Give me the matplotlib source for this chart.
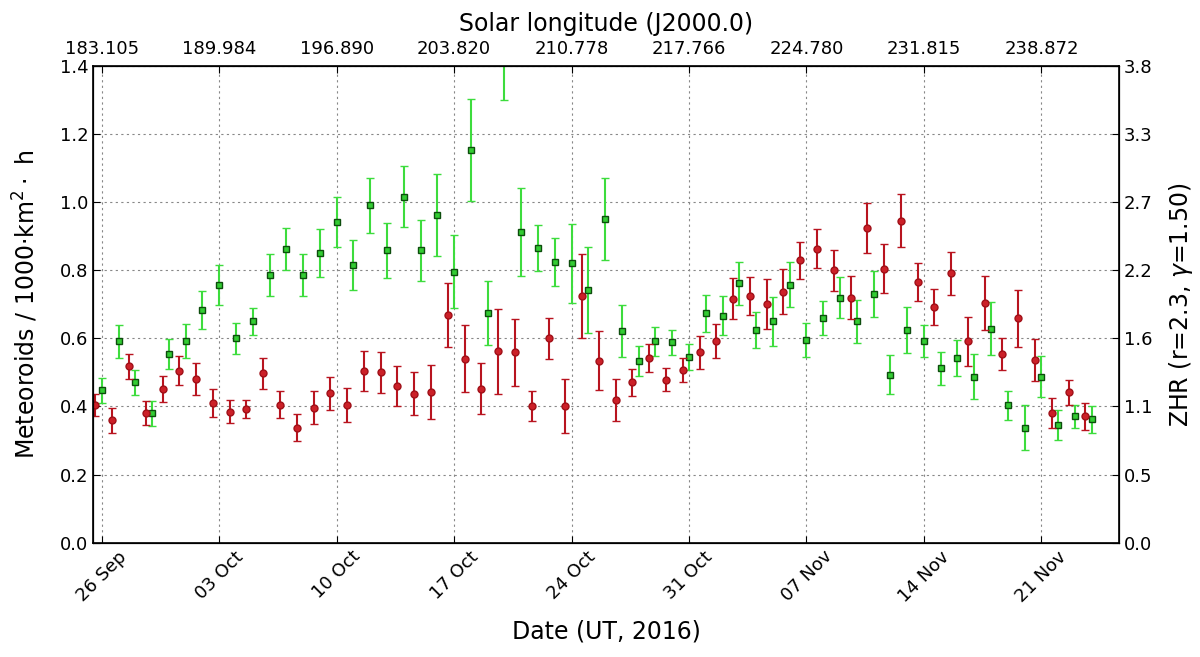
import numpy as np
import pandas as pd
import matplotlib
matplotlib.use('Agg')
import matplotlib.pyplot as plt
import matplotlib.dates as mdates

# daily bins
red_start = "2016-09-25 15:00"
red_vals = [0.405, 0.359, 0.518, 0.381, 0.451, 0.505, 0.481, 0.410, 0.385, 0.393,
            0.497, 0.405, 0.338, 0.397, 0.439, 0.405, 0.504, 0.500, 0.460, 0.438,
            0.442, 0.670, 0.540, 0.452, 0.562, 0.559, 0.401, 0.600, 0.401, 0.725,
            0.534, 0.418, 0.471, 0.543, 0.479, 0.508, 0.559, 0.591, 0.717, 0.725,
            0.701, 0.737, 0.829, 0.864, 0.800, 0.720, 0.925, 0.805, 0.945, 0.766,
            0.691, 0.791, 0.591, 0.705, 0.554, 0.659, 0.537, 0.381, 0.442, 0.371]
red_err = [0.032, 0.037, 0.036, 0.036, 0.038, 0.043, 0.046, 0.040, 0.033, 0.027,
           0.046, 0.040, 0.040, 0.048, 0.048, 0.050, 0.059, 0.059, 0.059, 0.062,
           0.079, 0.094, 0.098, 0.075, 0.124, 0.098, 0.044, 0.061, 0.080, 0.123,
           0.087, 0.062, 0.040, 0.041, 0.033, 0.035, 0.048, 0.050, 0.059, 0.055,
           0.073, 0.066, 0.055, 0.057, 0.060, 0.062, 0.073, 0.071, 0.078, 0.055,
           0.053, 0.063, 0.072, 0.079, 0.047, 0.084, 0.061, 0.043, 0.037, 0.040]

green_start = "2016-09-26 00:00"
green_vals = [0.447, 0.591, 0.471, 0.380, 0.554, 0.591, 0.683, 0.757, 0.600, 0.650,
              0.787, 0.862, 0.787, 0.850, 0.942, 0.816, 0.991, 0.859, 1.016, 0.859,
              0.962, 0.796, 1.153, 0.674, 1.450, 0.912, 0.866, 0.824, 0.820, 0.742,
              0.950, 0.621, 0.534, 0.591, 0.588, 0.546, 0.674, 0.667, 0.762, 0.625,
              0.650, 0.758, 0.596, 0.659, 0.720, 0.650, 0.730, 0.493, 0.624, 0.591,
              0.512, 0.542, 0.488, 0.629, 0.403, 0.338, 0.488, 0.347, 0.371, 0.362]
green_err = [0.038, 0.049, 0.036, 0.036, 0.043, 0.050, 0.056, 0.058, 0.045, 0.039,
             0.061, 0.061, 0.062, 0.071, 0.074, 0.074, 0.081, 0.081, 0.090, 0.089,
             0.121, 0.107, 0.149, 0.094, 0.150, 0.129, 0.067, 0.071, 0.115, 0.126,
             0.120, 0.076, 0.045, 0.043, 0.038, 0.039, 0.054, 0.057, 0.063, 0.052,
             0.072, 0.067, 0.050, 0.050, 0.061, 0.063, 0.068, 0.057, 0.068, 0.047,
             0.049, 0.053, 0.067, 0.078, 0.042, 0.067, 0.061, 0.044, 0.033, 0.039]

solar_lon_labels = ["183.105", "189.984", "196.890", "203.820", "210.778",
                    "217.766", "224.780", "231.815", "238.872"]
left_ticks = [0.0, 0.2, 0.4, 0.6, 0.8, 1.0, 1.2, 1.4]
zhr_labels = ["0.0", "0.5", "1.1", "1.6", "2.2", "2.7", "3.3", "3.8"]

red_dates = pd.date_range(red_start, periods=len(red_vals), freq="D")
green_dates = pd.date_range(green_start, periods=len(green_vals), freq="D")

plt.rcParams['font.family'] = ['DejaVu Sans']
plt.rcParams['mathtext.fontset'] = 'dejavusans'

fig = plt.figure(figsize=(12, 6.57), dpi=100, facecolor="white")
ax = fig.add_axes([0.0778, 0.174, 0.8547, 0.7255])

ax.errorbar(green_dates, green_vals, yerr=green_err, fmt="s", ms=5,
            mfc="#33cc33", mec="#0d4d0d", mew=1.0, ecolor="#3ddc3d",
            elinewidth=1.5, capsize=3, capthick=1, zorder=3)
ax.errorbar(red_dates, red_vals, yerr=red_err, fmt="o", ms=5,
            mfc="#cc2028", mec="#a01018", mew=1.0, ecolor="#b8141f",
            elinewidth=1.5, capsize=3, capthick=1, zorder=4)

x0 = pd.Timestamp("2016-09-25 12:00")
x1 = pd.Timestamp("2016-11-25 15:00")
ax.set_xlim(x0, x1)
ax.set_ylim(0, 1.4)
ax.set_yticks(left_ticks)
ax.xaxis.set_major_locator(mdates.WeekdayLocator(byweekday=mdates.MO))
ax.xaxis.set_major_formatter(mdates.DateFormatter("%d %b"))
for lbl in ax.get_xticklabels():
    lbl.set_rotation(45)
    lbl.set_ha("center")
ax.tick_params(direction="in", labelsize=13, length=5, top=False, right=False)
ax.grid(True, color="#888888", linestyle=(0, (2, 3)), linewidth=0.8)
ax.set_xlabel("Date (UT, 2016)", fontsize=17, labelpad=10)
ax.set_ylabel(r"Meteoroids / 1000$\cdot$km$^2\cdot$ h", fontsize=17, labelpad=14)
for sp in ax.spines.values():
    sp.set_linewidth(1.2)

# top axis: solar longitude at the same weekly ticks
axt = ax.twiny()
axt.set_xlim(ax.get_xlim())
axt.set_xticks(ax.get_xticks())
axt.set_xticklabels(solar_lon_labels)
axt.tick_params(direction="in", labelsize=13, length=5, pad=6)
axt.set_xlabel("Solar longitude (J2000.0)", fontsize=17, labelpad=6)

# right axis: ZHR
axr = ax.twinx()
axr.set_ylim(ax.get_ylim())
axr.set_yticks(left_ticks)
axr.set_yticklabels(zhr_labels)
axr.tick_params(direction="in", labelsize=13, length=5)
axr.set_ylabel(r"ZHR (r=2.3, $\gamma$=1.50)", fontsize=17, labelpad=10)

fig.savefig("out.png", dpi=100, facecolor="white")
